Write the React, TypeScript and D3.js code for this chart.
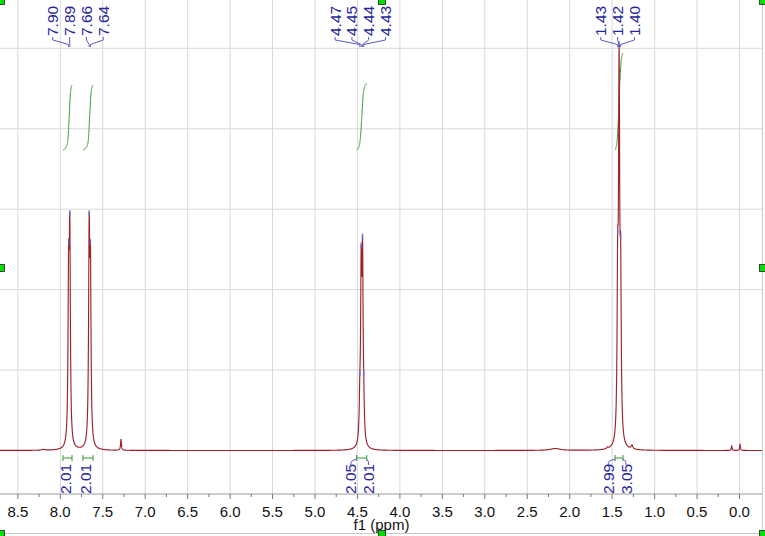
import React from "react";
import * as d3 from "d3";

// peak list (ppm, apparent height in grid units, half width in ppm)
const peakPpm = [7.902, 7.888, 7.66, 7.645, 7.285, 4.472, 4.456, 4.44, 4.426, 2.17, 1.555, 1.435, 1.418, 1.4, 1.266, 0.092, -0.006, 8.2];
const peakHeight = [2.59, 2.95, 2.95, 2.59, 0.14, 0.96, 2.55, 2.66, 0.96, 0.025, 0.045, 2.73, 5.05, 2.67, 0.07, 0.06, 0.08, 0.015];
const peakWidth = [0.008, 0.008, 0.008, 0.008, 0.006, 0.008, 0.008, 0.008, 0.008, 0.07, 0.01, 0.008, 0.008, 0.008, 0.012, 0.005, 0.005, 0.02];

// multiplet labels at the top
const labelText = ["7.90", "7.89", "7.66", "7.64", "4.47", "4.45", "4.44", "4.43", "1.43", "1.42", "1.40"];
const labelPeak = [0, 1, 2, 3, 5, 6, 7, 8, 11, 12, 13];
const labelGroup = [0, 0, 0, 0, 1, 1, 1, 1, 2, 2, 2];

// integrals
const integralFrom = [7.968, 7.733, 4.51, 1.466];
const integralTo = [7.862, 7.615, 4.39, 1.372];
const integralLabels = [["2.01"], ["2.01"], ["2.05", "2.01"], ["2.99", "3.05"]];

const tickValues = [8.5, 8.0, 7.5, 7.0, 6.5, 6.0, 5.5, 5.0, 4.5, 4.0, 3.5, 3.0, 2.5, 2.0, 1.5, 1.0, 0.5, 0.0];
const gridLevels = [1, 2, 3, 4, 5];

const W = 765;
const H = 536;
const font = "'Liberation Sans', Arial, sans-serif";
const labelBlue = "#25259c";
const linkBlue = "#5a5ac4";
const green = "#2f9a2f";
const specRed = "#9e2328";

const x = d3.scaleLinear().domain([8.5, 0]).range([17.85, 739.5]);
const y = d3.scaleLinear().domain([0, 5]).range([450.5, 48.3]);

const lor = (d: number, g: number) => 1 / (1 + (d / g) * (d / g));

// solve amplitudes so that the summed line shape hits the read heights
const amps = peakHeight.slice();
for (let it = 0; it < 40; it++) {
  for (let i = 0; i < amps.length; i++) {
    let s = 0;
    for (let j = 0; j < amps.length; j++) {
      if (j !== i) s += amps[j] * lor(peakPpm[i] - peakPpm[j], peakWidth[j]);
    }
    amps[i] = Math.max(0, peakHeight[i] - s);
  }
}
const spec = (p: number) => {
  let s = 0;
  for (let j = 0; j < amps.length; j++) s += amps[j] * lor(p - peakPpm[j], peakWidth[j]);
  return s;
};

const step = 0.0008;
const specPts: [number, number][] = d3.range(8.75, -0.3, -step).map((p) => [x(p), y(spec(p))]);
const line = d3.line();

const integralPaths = integralFrom.map((from, k) => {
  const ps = d3.range(from, integralTo[k], -step);
  const vals = ps.map(spec);
  const total = d3.sum(vals);
  let acc = 0;
  const hPx = parseFloat(integralLabels[k][0]) * 32.4;
  const pts: [number, number][] = ps.map((p, i) => {
    acc += vals[i];
    return [x(p), 150 - (acc / total) * hPx];
  });
  return line(pts) as string;
});

const App = () => {
  const fmt = d3.format(".1f");
  const minor = d3.range(0, 8.76, 0.25).filter((v) => Math.abs(v * 2 - Math.round(v * 2)) > 0.01);

  // label positions: spread evenly around each group's mean peak position
  const groups = d3.group(labelText.map((t, i) => i), (i) => labelGroup[i]);
  const labelX: number[] = [];
  groups.forEach((idx) => {
    const mean = d3.mean(idx, (i) => x(peakPpm[labelPeak[i]])) as number;
    idx.forEach((i, k) => {
      labelX[i] = mean + (k - (idx.length - 1) / 2) * 16.8 - 1.5;
    });
  });

  const handles: [number, number][] = [
    [1, 1], [382, 1], [763, 1],
    [1, 268], [763, 268],
    [1, 534], [382, 534], [763, 534],
  ];

  return (
    <div style={{ position: "absolute", left: 0, top: 0 }}>
      <svg width={W} height={H} style={{ display: "block", background: "#fff" }}>
        <defs>
          <clipPath id="plot">
            <rect x={0} y={0} width={762} height={494} />
          </clipPath>
        </defs>
        {/* grid */}
        {tickValues.map((v) => (
          <line key={"gx" + v} x1={x(v)} x2={x(v)} y1={0} y2={494} stroke="#d9d9d9" />
        ))}
        {gridLevels.map((g) => (
          <line key={"gy" + g} x1={0} x2={762} y1={y(g)} y2={y(g)} stroke="#d9d9d9" />
        ))}
        <line x1={762.5} x2={762.5} y1={0} y2={533} stroke="#c8c8c8" />
        <line x1={0} x2={762.5} y1={533.5} y2={533.5} stroke="#c8c8c8" />

        {/* integral curves */}
        {integralPaths.map((d, k) => (
          <path key={"ic" + k} d={d} fill="none" stroke={green} strokeWidth={1} />
        ))}

        {/* spectrum */}
        <g clipPath="url(#plot)">
          <path d={line(specPts) as string} fill="none" stroke={specRed} strokeWidth={1.15} strokeLinejoin="round" />
        </g>

        {/* peak markers */}
        {labelPeak.map((pi, i) => {
          const px = x(peakPpm[pi]);
          const top = Math.max(y(peakHeight[pi]), 44);
          return <line key={"pm" + i} x1={px} x2={px} y1={top - 3} y2={top + 3} stroke="#6b6bd8" strokeWidth={1.4} opacity={0.85} />;
        })}

        {/* peak labels */}
        {labelText.map((t, i) => {
          const lx = labelX[i];
          const px = x(peakPpm[labelPeak[i]]);
          return (
            <g key={"lb" + i}>
              <text
                transform={`translate(${lx},36) rotate(-90)`}
                textAnchor="start"
                dominantBaseline="central"
                fontFamily={font}
                fontSize={15.5}
                fill={labelBlue}
              >
                {t}
              </text>
              <polyline
                points={`${lx},37 ${lx},40 ${px},44.5 ${px},47`}
                fill="none"
                stroke={linkBlue}
                strokeWidth={1}
              />
            </g>
          );
        })}

        {/* integral brackets and values */}
        {integralFrom.map((from, k) => {
          const x1 = x(from);
          const x2 = x(integralTo[k]);
          const c = (x1 + x2) / 2;
          const labs = integralLabels[k];
          return (
            <g key={"ib" + k}>
              <line x1={x1} x2={x2} y1={458} y2={458} stroke={green} />
              <line x1={x1} x2={x1} y1={455} y2={461} stroke={green} />
              <line x1={x2} x2={x2} y1={455} y2={461} stroke={green} />
              {labs.map((t, j) => {
                const lx = c - 2 + (j - (labs.length - 1) / 2) * 18;
                const end = j === 0 ? x1 : x2;
                return (
                  <g key={"il" + j}>
                    {labs.length > 1 && (
                      <path d={`M${lx},465 Q${lx},459.5 ${end},459.5`} fill="none" stroke={linkBlue} />
                    )}
                    <text
                      transform={`translate(${lx},494) rotate(-90)`}
                      textAnchor="start"
                      dominantBaseline="central"
                      fontFamily={font}
                      fontSize={15.5}
                      fill={labelBlue}
                    >
                      {t}
                    </text>
                  </g>
                );
              })}
            </g>
          );
        })}

        {/* axis */}
        <rect x={0} y={494} width={762} height={39} fill="#fff" />
        <line x1={0} x2={762} y1={494} y2={494} stroke="#9a9a9a" />
        {tickValues.map((v) => (
          <g key={"t" + v}>
            <line x1={x(v)} x2={x(v)} y1={494} y2={499} stroke="#777" />
            <text x={x(v)} y={516.5} textAnchor="middle" fontFamily={font} fontSize={15} fill="#111">
              {fmt(v)}
            </text>
          </g>
        ))}
        {minor.filter((v) => x(v) > 0 && x(v) < 762).map((v) => (
          <line key={"mt" + v} x1={x(v)} x2={x(v)} y1={494} y2={497} stroke="#777" />
        ))}
        <text x={381.5} y={530} textAnchor="middle" fontFamily={font} fontSize={15} fill="#111">
          f1 (ppm)
        </text>

        {/* selection handles */}
        {handles.map(([hx, hy], i) => (
          <rect key={"h" + i} x={hx - 3.5} y={hy - 3.5} width={7} height={7} fill="#00e000" stroke="#222" strokeWidth={0.8} />
        ))}
      </svg>
    </div>
  );
};

export default App;
